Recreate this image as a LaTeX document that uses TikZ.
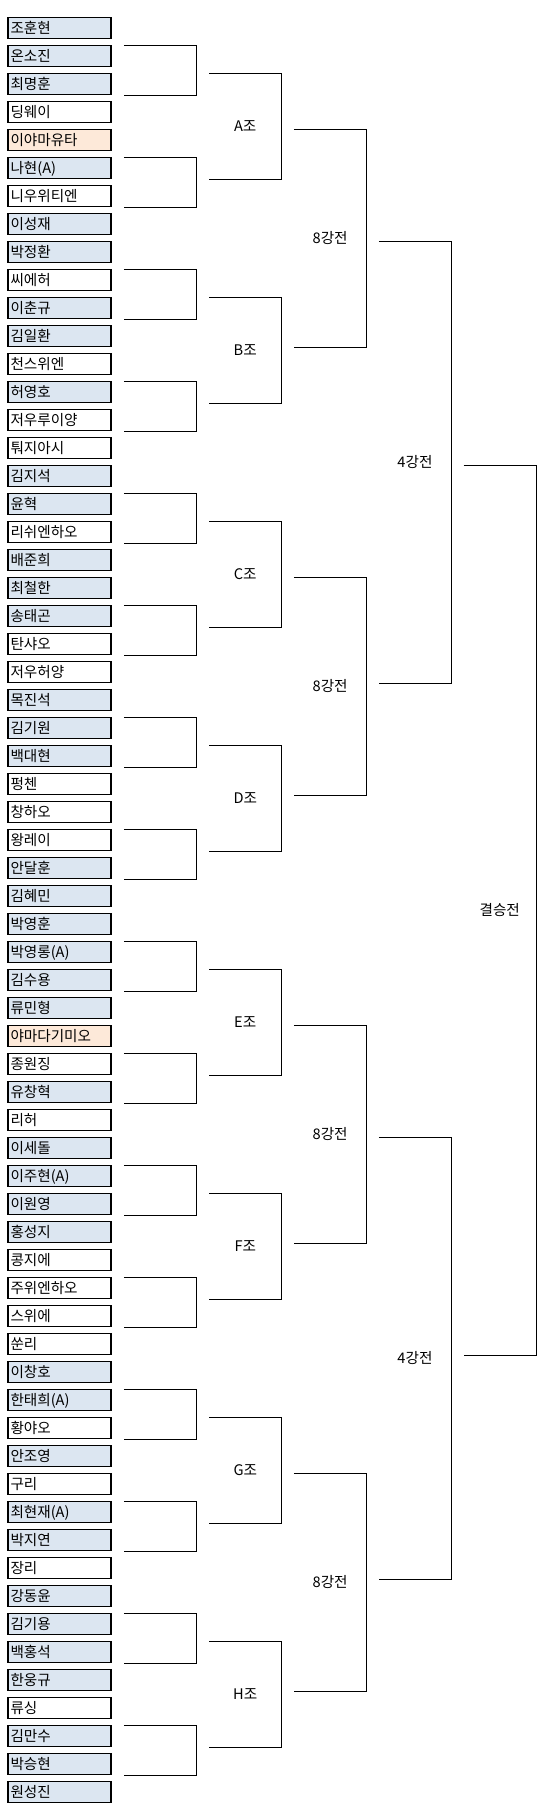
\documentclass[tikz,border=0pt]{standalone}
\usepackage{fontspec}
\setmainfont{Noto Sans CJK KR}
\usetikzlibrary{calc}
\definecolor{cellblue}{HTML}{DCE6F1}
\definecolor{cellpeach}{HTML}{FDE9D9}

\begin{document}
\begin{tikzpicture}[x=1pt, y=-1pt, line width=1.1pt, font=\fontsize{14.6}{16}\selectfont,
  player/.style={shape=rectangle, draw=black, text width=98pt, align=left, inner xsep=2.5pt, inner ysep=0pt, minimum height=21pt, text height=12.4pt, text depth=1.3pt},
  round/.style={shape=rectangle, draw=none, text height=12.4pt, text depth=1.3pt}]
%%%%%%%%%%%%%%%%%%%%%%%%%%%%%%%%%%%%%%%%%%% HELP LINES
%\draw[help lines] (0,0) grid +(556,1819);
\useasboundingbox (0,0) rectangle (556,1819);

%%%%%%%%%%%%%%%%%%%%%%%%%%%%%%%%%%%%%%%%%%% players
\foreach \i/\name/\col in {0/조훈현/cellblue, 1/온소진/cellblue, 2/최명훈/cellblue, 3/딩웨이/white,
  4/이야마유타/cellpeach, 5/나현(A)/cellblue, 6/니우위티엔/white, 7/이성재/cellblue,
  8/박정환/cellblue, 9/씨에허/white, 10/이춘규/cellblue, 11/김일환/cellblue,
  12/천스위엔/white, 13/허영호/cellblue, 14/저우루이양/white, 15/퉈지아시/white,
  16/김지석/cellblue, 17/윤혁/cellblue, 18/리쉬엔하오/white, 19/배준희/cellblue,
  20/최철한/cellblue, 21/송태곤/cellblue, 22/탄샤오/white, 23/저우허양/white,
  24/목진석/cellblue, 25/김기원/cellblue, 26/백대현/cellblue, 27/펑첸/white,
  28/창하오/white, 29/왕레이/white, 30/안달훈/cellblue, 31/김혜민/cellblue,
  32/박영훈/cellblue, 33/박영롱(A)/cellblue, 34/김수용/cellblue, 35/류민형/cellblue,
  36/야마다기미오/cellpeach, 37/종원징/white, 38/유창혁/cellblue, 39/리허/white,
  40/이세돌/cellblue, 41/이주현(A)/cellblue, 42/이원영/cellblue, 43/홍성지/cellblue,
  44/콩지에/white, 45/주위엔하오/white, 46/스위에/white, 47/쑨리/white,
  48/이창호/cellblue, 49/한태희(A)/cellblue, 50/황야오/white, 51/안조영/cellblue,
  52/구리/white, 53/최현재(A)/cellblue, 54/박지연/cellblue, 55/장리/white,
  56/강동윤/cellblue, 57/김기용/cellblue, 58/백홍석/cellblue, 59/한웅규/cellblue,
  60/류싱/white, 61/김만수/cellblue, 62/박승현/cellblue, 63/원성진/cellblue}
  \node[player, fill=\col](p\i) at (59.5,28.3+28*\i){\name};

%%%%% first round
\foreach \a/\b in {1/2,5/6,9/10,13/14,17/18,21/22,25/26,29/30,33/34,37/38,41/42,45/46,49/50,53/54,57/58,61/62}
  \draw ([xshift=12.2pt]p\a.north east) -- ([xshift=85pt]p\a.north east) |- ([xshift=12.2pt]p\b.south east);

%%%%% groups
\foreach \a/\b/\l in {2/5/A,10/13/B,18/21/C,26/29/D,34/37/E,42/45/F,50/53/G,58/61/H}{
  \draw ([xshift=97.5pt]p\a.north east) -- ([xshift=170pt]p\a.north east) |- ([xshift=97.5pt]p\b.south east);
  \node[round](g\l) at ($([xshift=133.7pt]p\a.north east)!0.5!([xshift=133.7pt]p\b.south east)$){\l{}조};
}

%%%%% 8강전
\foreach \a/\b/\k in {4/11/0,20/27/1,36/43/2,52/59/3}{
  \draw ([xshift=182.4pt]p\a.north east) -- ([xshift=254.8pt]p\a.north east) |- ([xshift=182.4pt]p\b.south east);
  \node[round](q\k) at ($([xshift=218.6pt]p\a.north east)!0.5!([xshift=218.6pt]p\b.south east)$){8강전};
}

%%%%% 4강전
\foreach \a/\b/\k in {8/23/0,40/55/1}{
  \draw ([xshift=267.2pt]p\a.north east) -- ([xshift=339.6pt]p\a.north east) |- ([xshift=267.2pt]p\b.south east);
  \node[round](s\k) at ($([xshift=303.4pt]p\a.north east)!0.5!([xshift=303.4pt]p\b.south east)$){4강전};
}

%%%%% final
\draw ([xshift=352pt]p16.north east) -- ([xshift=424.5pt]p16.north east) |- ([xshift=352pt]p47.south east);
\node[round](fin) at ($([xshift=388.2pt]p16.north east)!0.5!([xshift=388.2pt]p47.south east)$){결승전};
\end{tikzpicture}
\end{document}
